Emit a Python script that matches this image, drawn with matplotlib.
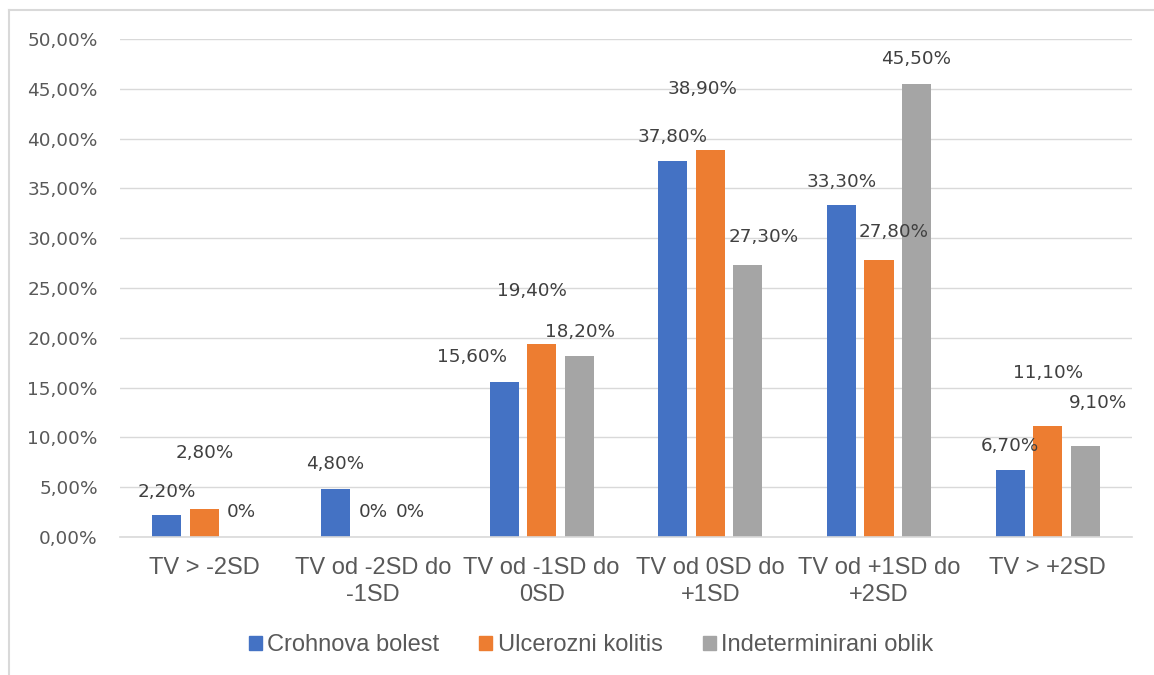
import numpy as np
import matplotlib
matplotlib.use("Agg")
import matplotlib.pyplot as plt
from matplotlib.patches import Rectangle
from matplotlib.lines import Line2D

categories = ["TV > -2SD", "TV od -2SD do\n-1SD", "TV od -1SD do\n0SD",
              "TV od 0SD do\n+1SD", "TV od +1SD do\n+2SD", "TV > +2SD"]
series_names = ["Crohnova bolest", "Ulcerozni kolitis", "Indeterminirani oblik"]
crohn = [2.2, 4.8, 15.6, 37.8, 33.3, 6.7]
kolitis = [2.8, 0.0, 19.4, 38.9, 27.8, 11.1]
indet = [0.0, 0.0, 18.2, 27.3, 45.5, 9.1]
colors = ["#4472C4", "#ED7D31", "#A5A5A5"]

# label offsets in pixels (dx, dy) from bar top, labels were moved by hand in excel
label_off = [
    [(0, 23), (0, 25), (-32, 25), (0, 24), (0, 23), (0, 24)],
    [(0, 56), (0, 25), (-10, 53), (-8, 61), (15, 28), (0, 53)],
    [(0, 25), (0, 25), (1, 24), (16, 28), (0, 25), (13, 43)],
]

W, H, DPI = 1154, 675, 100
fig = plt.figure(figsize=(W / DPI, H / DPI), dpi=DPI)
ax = fig.add_axes([120 / W, 1 - 537 / H, 1012 / W, 498 / H])

x = np.arange(len(categories))
bw = 0.172
step = 0.222
pt = 72 / DPI

def fmt(v):
    if v == 0:
        return "0%"
    return ("%.2f%%" % v).replace(".", ",")

for k, vals in enumerate([crohn, kolitis, indet]):
    xs = x + (k - 1) * step
    ax.bar(xs, vals, width=bw, color=colors[k], label=series_names[k], zorder=3)
    for i, v in enumerate(vals):
        dx, dy = label_off[k][i]
        ax.annotate(fmt(v), xy=(xs[i], v), xytext=(dx * pt, dy * pt),
                    textcoords="offset points", ha="center", va="center",
                    fontsize=13.2, color="#404040", family="DejaVu Sans", zorder=4)

ax.set_xlim(-0.5, len(categories) - 0.5)
ax.set_ylim(0, 50)
ax.set_yticks(np.arange(0, 51, 5))
ax.set_yticklabels([("%.2f%%" % t).replace(".", ",") for t in np.arange(0, 51, 5)],
                   fontsize=13.3, color="#595959", family="DejaVu Sans")
ax.set_xticks(x)
ax.set_xticklabels(categories, fontsize=17, color="#595959", family="Liberation Sans",
                   linespacing=1.3)
ax.tick_params(axis="x", length=0, pad=14.5)
ax.tick_params(axis="y", length=0, pad=16)
ax.yaxis.grid(True, color="#D9D9D9", lw=1.0, zorder=0)
ax.set_axisbelow(True)
for s in ["left", "right", "top"]:
    ax.spines[s].set_visible(False)
ax.spines["bottom"].set_color("#D9D9D9")
ax.spines["bottom"].set_linewidth(1.2)
ax.spines["bottom"].set_zorder(3.5)

handles = [Rectangle((0, 0), 1, 1, color=c) for c in colors]
fig.legend(handles, series_names, loc="center", bbox_to_anchor=(591 / W, 1 - 645 / H),
           ncol=3, frameon=False, handlelength=0.55, handleheight=0.55,
           handletextpad=0.22, columnspacing=1.7,
           prop={"family": "Liberation Sans", "size": 17}, labelcolor="#595959")

# chart border (only left and top show in the crop)
bx, by = 9 / W, 1 - 10 / H
fig.add_artist(Line2D([bx, bx], [0, by], color="#D9D9D9", lw=1.5, transform=fig.transFigure))
fig.add_artist(Line2D([bx, 1], [by, by], color="#D9D9D9", lw=1.5, transform=fig.transFigure))

fig.savefig("out.png", dpi=DPI)
